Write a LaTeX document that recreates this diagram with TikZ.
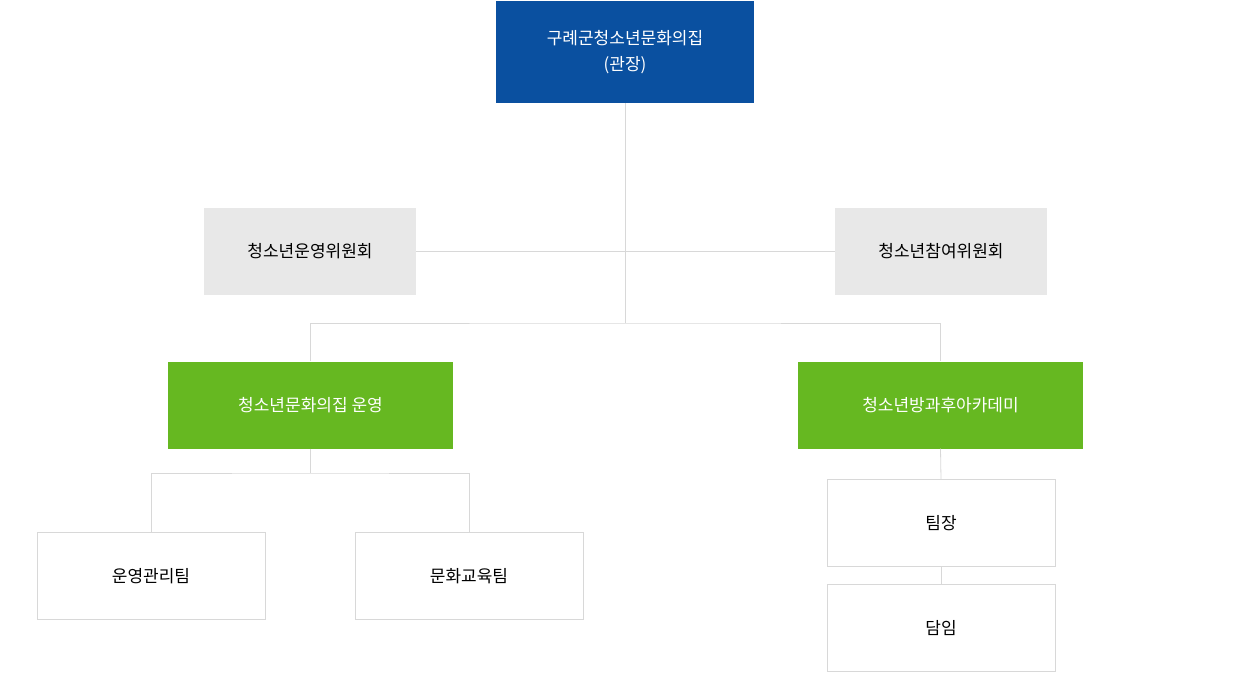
\documentclass[tikz,border=0pt]{standalone}
\usepackage{fontspec}
\newfontfamily\kr{Noto Sans CJK KR}
\definecolor{headblue}{HTML}{0A50A0}
\definecolor{teamgreen}{HTML}{66B821}
\definecolor{boardgray}{HTML}{E8E8E8}
\definecolor{linegray}{HTML}{D8D8D8}
\begin{document}
\begin{tikzpicture}[x=1pt,y=-1pt,
% common options for all boxes:
box/.style = {minimum width=#1, minimum height=87, inner sep=0, align=center,
            font=\kr\fontsize{17}{26}\selectfont},
head/.style = {box=258, minimum height=102, fill=headblue, text=white},
board/.style = {box=212, fill=boardgray},
team/.style = {box=285, fill=teamgreen, text=white},
unit/.style = {box=228, draw=linegray, fill=white},
link/.style = {draw=linegray, line width=0.8pt}]
\useasboundingbox (0,0) rectangle (1250,675);
\node[head] (H) at (625,52) {구례군청소년문화의집\\(관장)};
\node[board] (BL) at (310,251.5) {청소년운영위원회};
\node[board] (BR) at (941,251.5) {청소년참여위원회};
\node[team] (GL) at (310.5,405) {청소년문화의집 운영};
\node[team] (GR) at (940.5,405) {청소년방과후아카데미};
\node[unit] (U1) at (151,576) {운영관리팀};
\node[unit] (U2) at (469,576) {문화교육팀};
\node[unit] (U3) at (941,523) {팀장};
\node[unit] (U4) at (941,628) {담임};
\coordinate (J1) at (625,323);
\coordinate (J2) at (310.5,473);
\draw[link] (H.south) -- (J1);
\draw[link] (BL.east) -- (BR.west);
\draw[link] (GL.north) |- (J1) -| (GR.north);
\draw[link] (GL.south) -- (J2);
\draw[link] (U1.north) |- (J2) -| (U2.north);
\draw[link] (GR.south) -- (U3.north);
\draw[link] (U3.south) -- (U4.north);
\end{tikzpicture}
\end{document}
